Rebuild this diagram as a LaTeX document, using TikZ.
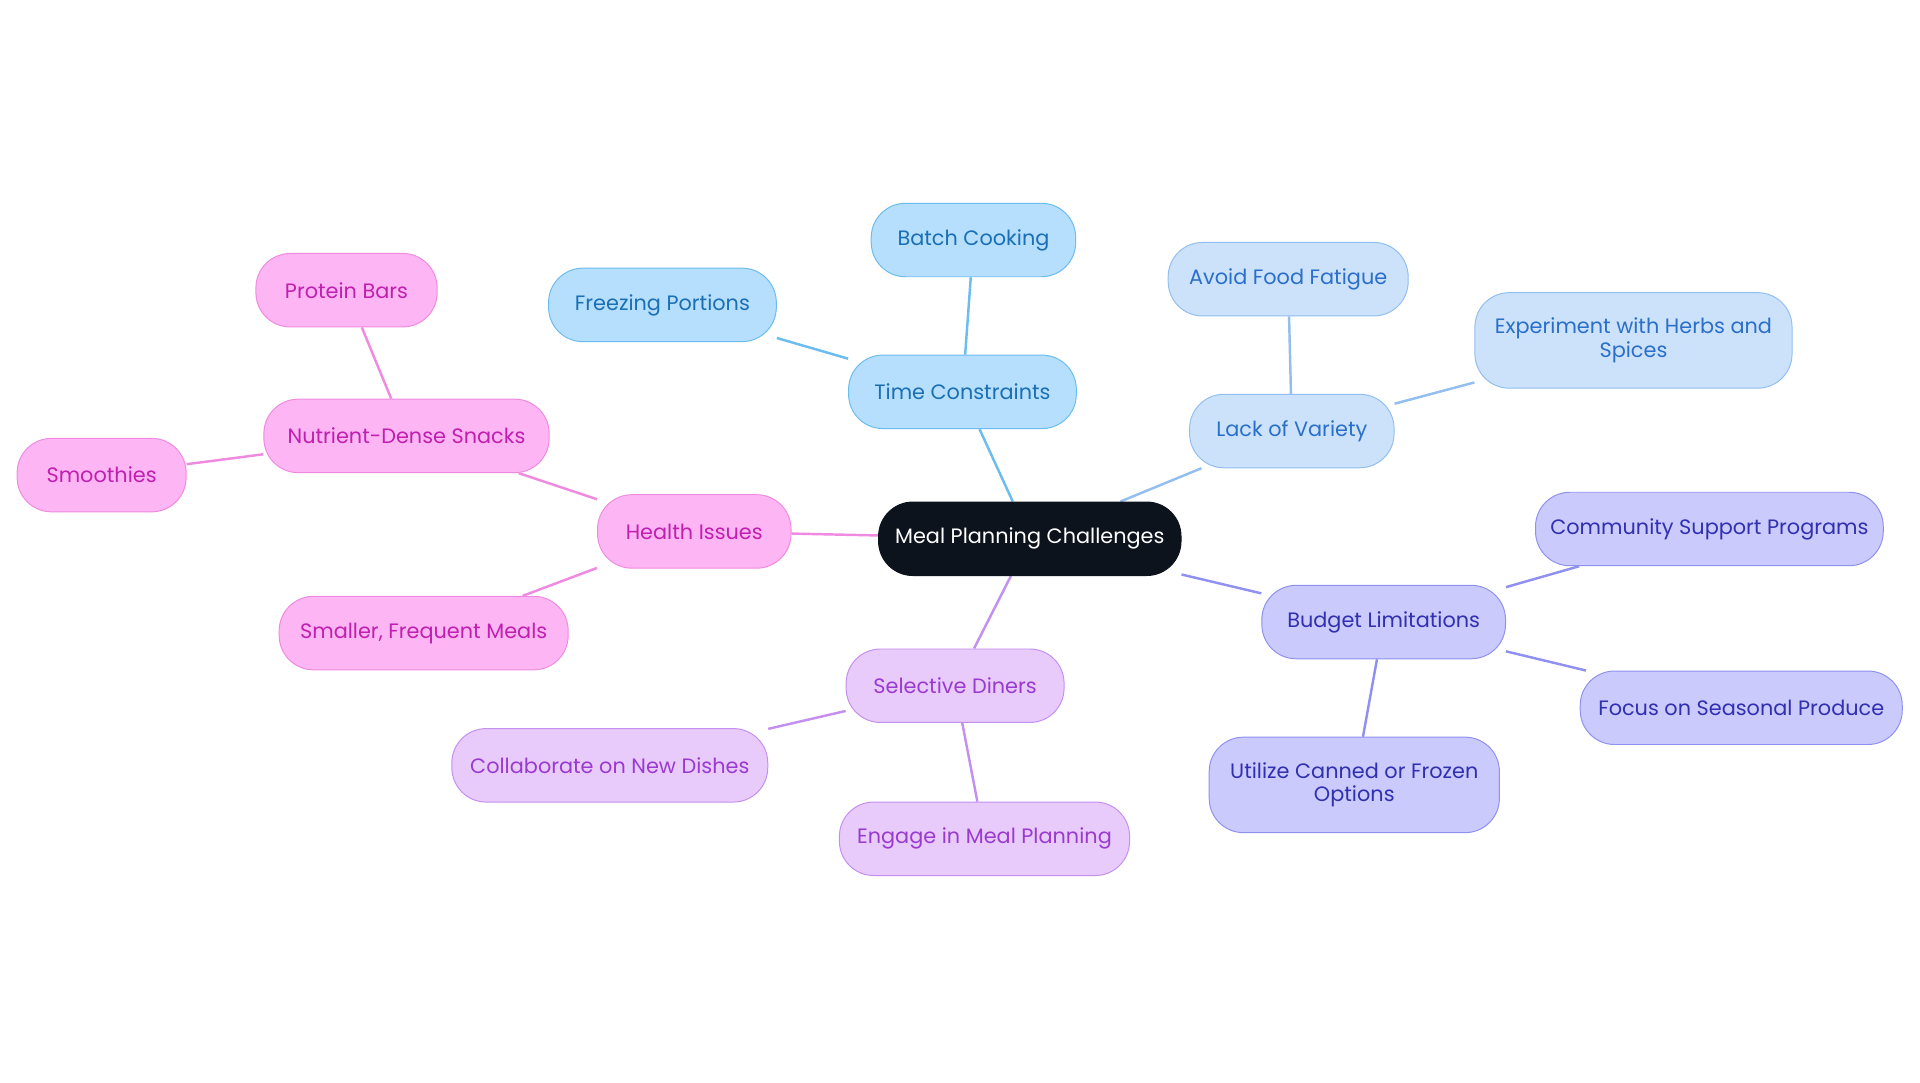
\documentclass[tikz,border=0pt]{standalone}
\usepackage{fontspec}
\setmainfont{Poppins}
\usetikzlibrary{backgrounds}
\definecolor{tcF}{HTML}{B5DFFC}\definecolor{tcB}{HTML}{6BBCEF}\definecolor{tcT}{HTML}{1A6FB5}
\definecolor{lvF}{HTML}{CCE2FA}\definecolor{lvB}{HTML}{92BEF0}\definecolor{lvT}{HTML}{2A6FC9}
\definecolor{blF}{HTML}{CACAFC}\definecolor{blB}{HTML}{9090F0}\definecolor{blT}{HTML}{3030B0}
\definecolor{sdF}{HTML}{E8CAFB}\definecolor{sdB}{HTML}{C490F0}\definecolor{sdT}{HTML}{9A3BD0}
\definecolor{hiF}{HTML}{FDB6F3}\definecolor{hiB}{HTML}{F08AE0}\definecolor{hiT}{HTML}{C01FB0}
\definecolor{ctr}{HTML}{0D131C}
\tikzset{
 box/.style={rounded corners=28pt,minimum height=60pt,align=center,inner sep=2pt,font=\fontsize{17}{19}\selectfont,line width=0.8pt},
 tc/.style={box,fill=tcF,draw=tcB,text=tcT},
 lv/.style={box,fill=lvF,draw=lvB,text=lvT},
 bl/.style={box,fill=blF,draw=blB,text=blT},
 sd/.style={box,fill=sdF,draw=sdB,text=sdT},
 hi/.style={box,fill=hiF,draw=hiB,text=hiT},
 ln/.style={line width=2pt}
}
\begin{document}
\begin{tikzpicture}[x=1pt,y=-1pt]
\useasboundingbox (0,0) rectangle (1568,884);
\node[box,fill=ctr,draw=ctr,text=white,minimum width=247pt] (c) at (841,440) {Meal Planning Challenges};
\node[tc,minimum width=186pt] (tc) at (786,320) {Time Constraints};
\node[tc,minimum width=167pt] (bc) at (795,196) {Batch Cooking};
\node[tc,minimum width=186pt] (fp) at (541,249) {Freezing Portions};
\node[lv,minimum width=167pt] (lv) at (1055,352) {Lack of Variety};
\node[lv,minimum width=196pt] (af) at (1052,228) {Avoid Food Fatigue};
\node[lv,minimum width=259pt,minimum height=78pt] (ex) at (1334,278) {Experiment with Herbs and\\Spices};
\node[bl,minimum width=199pt] (bl) at (1130,508) {Budget Limitations};
\node[bl,minimum width=284pt] (cs) at (1396,432) {Community Support Programs};
\node[bl,minimum width=263pt] (fs) at (1422,578) {Focus on Seasonal Produce};
\node[bl,minimum width=237pt,minimum height=78pt] (uc) at (1106,641) {Utilize Canned or Frozen\\Options};
\node[sd,minimum width=178pt] (sd) at (780,560) {Selective Diners};
\node[sd,minimum width=258pt] (cn) at (498,625) {Collaborate on New Dishes};
\node[sd,minimum width=237pt] (em) at (804,685) {Engage in Meal Planning};
\node[hi,minimum width=158pt] (hi) at (567,434) {Health Issues};
\node[hi,minimum width=233pt] (nd) at (332,356) {Nutrient-Dense Snacks};
\node[hi,minimum width=148pt] (pb) at (283,237) {Protein Bars};
\node[hi,minimum width=138pt] (sm) at (83,388) {Smoothies};
\node[hi,minimum width=236pt] (sf) at (346,517) {Smaller, Frequent Meals};
\begin{scope}[on background layer]
\draw[ln,tcB] (c)--(tc) (tc)--(bc) (tc)--(fp);
\draw[ln,lvB] (c)--(lv) (lv)--(af) (lv)--(ex);
\draw[ln,blB] (c)--(bl) (bl)--(cs) (bl)--(fs) (bl)--(uc);
\draw[ln,sdB] (c)--(sd) (sd)--(cn) (sd)--(em);
\draw[ln,hiB] (c)--(hi) (hi)--(nd) (nd)--(pb) (nd)--(sm) (hi)--(sf);
\end{scope}
\end{tikzpicture}
\end{document}
